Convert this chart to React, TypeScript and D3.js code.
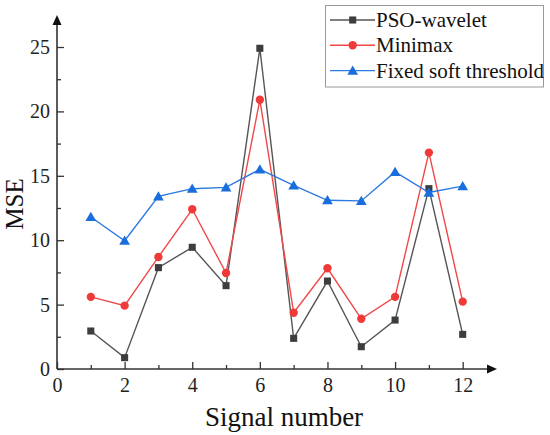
import * as d3 from 'd3';
import React, { useEffect, useRef } from 'react';

const signals = [1, 2, 3, 4, 5, 6, 7, 8, 9, 10, 11, 12];
const psoWavelet = [2.95, 0.88, 7.87, 9.45, 6.47, 24.9, 2.38, 6.83, 1.73, 3.8, 14.0, 2.69];
const minimax = [5.6, 4.92, 8.7, 12.4, 7.45, 20.9, 4.37, 7.82, 3.9, 5.6, 16.8, 5.23];
const fixedSoft = [11.8, 9.96, 13.4, 14.0, 14.1, 15.5, 14.25, 13.1, 13.05, 15.3, 13.7, 14.2];
const xTicks = [0, 2, 4, 6, 8, 10, 12];
const yTicks = [0, 5, 10, 15, 20, 25];
const seriesNames = ['PSO-wavelet', 'Minimax', 'Fixed soft threshold'];

const font = '"Liberation Serif", "Times New Roman", serif';

const App = () => {
  const svgRef = useRef(null);

  useEffect(() => {
    const svg = d3.select(svgRef.current);
    svg.selectAll('*').remove();

    const x = d3.scaleLinear().domain([0, 12]).range([57, 462.7]);
    const y = d3.scaleLinear().domain([0, 25]).range([369, 47]);
    const axisColor = '#333';

    const series = [
      { name: seriesNames[0], values: psoWavelet, line: '#555', fill: '#3d3d3d', shape: 'square' },
      { name: seriesNames[1], values: minimax, line: '#f04848', fill: '#f03a3a', shape: 'circle' },
      { name: seriesNames[2], values: fixedSoft, line: '#2a7ae2', fill: '#1a6ddc', shape: 'triangle' },
    ];

    const symbolFor = (shape) =>
      shape === 'square'
        ? d3.symbol(d3.symbolSquare, 50)
        : shape === 'circle'
        ? d3.symbol(d3.symbolCircle, 55)
        : d3.symbol(d3.symbolTriangle, 50);

    // axes
    const xAxis = d3
      .axisBottom(x)
      .tickValues(d3.range(0, 13, 1))
      .tickSizeInner(-7)
      .tickSizeOuter(0)
      .tickFormat((d) => (xTicks.includes(+d) ? String(d) : ''));
    const gx = svg.append('g').attr('transform', 'translate(0,369)').call(xAxis);
    gx.select('.domain').remove();
    gx.selectAll('.tick line')
      .attr('stroke', axisColor)
      .attr('stroke-width', 1.3)
      .attr('y2', (d) => (xTicks.includes(+d) ? -7 : -4));
    gx.selectAll('.tick text')
      .attr('y', 9)
      .attr('font-family', font)
      .attr('font-size', 20)
      .attr('fill', '#222');

    const yAxis = d3
      .axisLeft(y)
      .tickValues(d3.range(0, 27.5, 2.5))
      .tickSizeInner(-7)
      .tickSizeOuter(0)
      .tickFormat((d) => (yTicks.includes(+d) ? String(d) : ''));
    const gy = svg.append('g').attr('transform', 'translate(57,0)').call(yAxis);
    gy.select('.domain').remove();
    gy.selectAll('.tick line')
      .attr('stroke', axisColor)
      .attr('stroke-width', 1.3)
      .attr('x2', (d) => (yTicks.includes(+d) ? 7 : 4));
    gy.selectAll('.tick text')
      .attr('x', -7)
      .attr('font-family', font)
      .attr('font-size', 20)
      .attr('fill', '#222');

    // axis lines with arrows
    svg.append('line').attr('x1', 57).attr('x2', 490).attr('y1', 369).attr('y2', 369)
      .attr('stroke', axisColor).attr('stroke-width', 1.6);
    svg.append('path').attr('d', 'M497,369 L487,364.5 L487,373.5 Z').attr('fill', '#111');
    svg.append('line').attr('x1', 57).attr('x2', 57).attr('y1', 369).attr('y2', 22)
      .attr('stroke', axisColor).attr('stroke-width', 1.6);
    svg.append('path').attr('d', 'M57,15 L52.5,25 L61.5,25 Z').attr('fill', '#111');

    // series
    const lineGen = d3
      .line()
      .x((d) => x(d[0]))
      .y((d) => y(d[1]));

    series.forEach((s) => {
      const pts = s.values.map((v, i) => [signals[i], v]);
      svg.append('path').attr('d', lineGen(pts)).attr('fill', 'none')
        .attr('stroke', s.line).attr('stroke-width', 1.4);
      svg.append('g').selectAll('path').data(pts).join('path')
        .attr('d', symbolFor(s.shape))
        .attr('transform', (d) => `translate(${x(d[0])},${y(d[1]) + (s.shape === 'triangle' ? 1 : 0)})`)
        .attr('fill', s.fill);
    });

    // legend
    const lg = svg.append('g');
    lg.append('rect').attr('x', 325.5).attr('y', 5.5).attr('width', 218).attr('height', 81.5)
      .attr('fill', 'white').attr('stroke', '#999').attr('stroke-width', 1);
    series.forEach((s, i) => {
      const cy = 20 + i * 25.3;
      lg.append('line').attr('x1', 330).attr('x2', 375).attr('y1', cy).attr('y2', cy)
        .attr('stroke', s.line).attr('stroke-width', 1.4);
      lg.append('path').attr('d', symbolFor(s.shape))
        .attr('transform', `translate(352.7,${cy + (s.shape === 'triangle' ? 1 : 0)})`)
        .attr('fill', s.fill);
      lg.append('text').attr('x', 376).attr('y', cy + 7).text(s.name)
        .attr('font-family', font).attr('font-size', 21).attr('fill', '#111');
    });

    // axis titles
    svg.append('text').attr('x', 284).attr('y', 426).attr('text-anchor', 'middle')
      .attr('font-family', font).attr('font-size', 27).attr('fill', '#111')
      .text('Signal number');
    svg.append('text').attr('transform', 'translate(23,204) rotate(-90)').attr('text-anchor', 'middle')
      .attr('font-family', font).attr('font-size', 25).attr('fill', '#111')
      .text('MSE');
  }, []);

  return (
    <svg
      ref={svgRef}
      width={550}
      height={435}
      style={{ position: 'absolute', left: 0, top: 0, background: 'white' }}
    />
  );
};

export default App;
